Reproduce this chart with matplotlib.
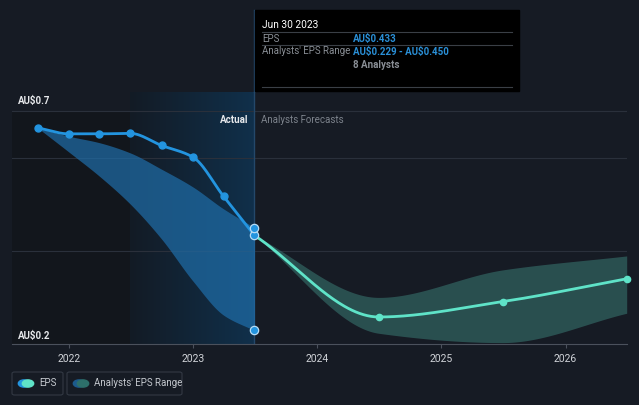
import numpy as np
import pandas as pd
import matplotlib
matplotlib.use("Agg")
from matplotlib import pyplot as plt
from matplotlib.patches import FancyBboxPatch, Circle

plt.rcParams["font.family"] = ["Roboto", "DejaVu Sans"]

# ---- data ----
past_dates = ["2021-09-30", "2021-12-31", "2022-03-31", "2022-06-30",
              "2022-09-30", "2022-12-31", "2023-03-31", "2023-06-30"]
past_eps = [0.664, 0.651, 0.651, 0.652, 0.626, 0.601, 0.517, 0.433]
past_low = [0.664, 0.612, 0.560, 0.500, 0.425, 0.335, 0.262, 0.229]
past_high = [0.664, 0.646, 0.632, 0.610, 0.575, 0.537, 0.490, 0.450]

fc_dates = ["2023-06-30", "2024-06-30", "2025-06-30", "2026-06-30"]
fc_eps = [0.433, 0.258, 0.291, 0.340]
fc_low = [0.433, 0.223, 0.203, 0.266]
fc_high = [0.433, 0.300, 0.359, 0.389]

year_ticks = [2022, 2023, 2024, 2025, 2026]
grid_vals = [0.7, 0.6, 0.4]

BG = "#161b24"
BLUE = "#2394df"
TEAL = "#5fe3c8"


def to_year(dates):
    d = pd.to_datetime(pd.Series(dates))
    start = pd.to_datetime(d.dt.year.astype(str) + "-01-01")
    end = pd.to_datetime((d.dt.year + 1).astype(str) + "-01-01")
    return (d.dt.year + (d - start) / (end - start)).to_numpy()


def monotone(x, y, n=200):
    # monotone cubic (Fritsch-Carlson) for drawing smooth curves
    x = np.asarray(x, float)
    y = np.asarray(y, float)
    h = np.diff(x)
    d = np.diff(y) / h
    m = np.zeros_like(y)
    m[0], m[-1] = d[0], d[-1]
    for i in range(1, len(y) - 1):
        if d[i - 1] * d[i] <= 0:
            m[i] = 0
        else:
            w1 = 2 * h[i] + h[i - 1]
            w2 = h[i] + 2 * h[i - 1]
            m[i] = (w1 + w2) / (w1 / d[i - 1] + w2 / d[i])
    xs, ys = [], []
    for i in range(len(h)):
        t = np.linspace(0, 1, n // len(h))
        h00 = 2 * t**3 - 3 * t**2 + 1
        h10 = t**3 - 2 * t**2 + t
        h01 = -2 * t**3 + 3 * t**2
        h11 = t**3 - t**2
        xs.append(x[i] + t * h[i])
        ys.append(h00 * y[i] + h10 * h[i] * m[i] + h01 * y[i + 1] + h11 * h[i] * m[i + 1])
    return np.concatenate(xs), np.concatenate(ys)


def money(v):
    return "AU\\$%.3f" % v


px = to_year(past_dates)
fx = to_year(fc_dates)

fig = plt.figure(figsize=(6.39, 4.05), dpi=100, facecolor=BG)
ax = fig.add_axes([12 / 639, 61 / 405, 614.7 / 639, 252 / 405])
ax.set_facecolor(BG)
x0, x1 = 2021.539, fx[-1]
ytop = 0.7408
ax.set_xlim(x0, x1)
ax.set_ylim(0.2, ytop)

# shaded "actual" background
ax.axvspan(x0, px[3], ymin=0, ymax=(0.7 - 0.2) / (ytop - 0.2), color="#12161c",
           zorder=0, lw=0)
grad = np.linspace(0, 1, 256).reshape(1, -1)
cmap = matplotlib.colors.LinearSegmentedColormap.from_list("g", ["#131b25", "#10304b"])
ax.imshow(grad, extent=[px[3], px[-1], 0.2, ytop], aspect="auto", cmap=cmap, zorder=0.5)

for g in grid_vals:
    ax.axhline(g, color="#2a303b", lw=0.8, zorder=1)

# ranges
sx, sl = monotone(px, past_low)
_, sh = monotone(px, past_high)
ax.fill_between(sx, sl, sh, color="#1f6eaa", alpha=0.7, lw=0, zorder=2)
fxs, fl = monotone(fx, fc_low)
_, fh = monotone(fx, fc_high)
ax.fill_between(fxs, fl, fh, color="#3a7a74", alpha=0.55, lw=0, zorder=2)

# lines
ex, ey = monotone(px, past_eps)
ax.plot(ex, ey, color=BLUE, lw=2, zorder=3)
ax.plot(px[:-1], past_eps[:-1], "o", color=BLUE, ms=5, zorder=4)
fxe, fye = monotone(fx, fc_eps)
ax.plot(fxe, fye, color=TEAL, lw=2, zorder=3)
ax.plot(fx[1:], fc_eps[1:], "o", color=TEAL, ms=4.5, zorder=4, clip_on=False)
for v in [past_eps[-1], past_low[-1], past_high[-1]]:
    ax.plot(px[-1], v, "o", color=BLUE, mec="#b8dcf5", mew=0.9, ms=6, zorder=5)

# divider line
ax.axvline(px[-1], color="#24486a", lw=1, zorder=1.5)
fig.add_artist(plt.Line2D([254.3 / 639, 254.3 / 639], [1 - 92 / 405, 1 - 10 / 405],
                          color="#24486a", lw=1))

for s in ["top", "right", "left"]:
    ax.spines[s].set_visible(False)
ax.spines["bottom"].set_color("#4b515c")
ax.set_yticks([])
ax.set_xticks(year_ticks)
ax.set_xticklabels([str(y) for y in year_ticks])
ax.tick_params(axis="x", colors="#4b515c", labelcolor="#d0d3d8", labelsize=7.5,
               length=3, pad=4)

ax.text(px[-1] - 0.05, 0.681, "Actual", color="#e6e8eb", fontsize=7,
        fontweight="bold", ha="right", va="center", zorder=6)
ax.text(px[-1] + 0.05, 0.681, "Analysts Forecasts", color="#7d838c",
        fontsize=7, ha="left", va="center", zorder=6)

fig.text(18 / 639, 1 - 101 / 405, "AU\\$0.7", color="#e6e8eb", fontsize=7,
         fontweight="bold", va="center")
fig.text(18 / 639, 1 - 336 / 405, "AU\\$0.2", color="#e6e8eb", fontsize=7,
         fontweight="bold", va="center")

# tooltip
fig.patches.append(plt.Rectangle((255 / 639, 1 - 91 / 405), 264 / 639, 81 / 405,
                                 transform=fig.transFigure, color="#000000", zorder=10))
for yy in [32, 45, 87]:
    fig.add_artist(plt.Line2D([262 / 639, 512 / 639], [1 - yy / 405] * 2,
                              color="#3a3f46", lw=0.8, zorder=11))
fig.text(262 / 639, 1 - 24.5 / 405, "Jun 30 2023", color="#ffffff", fontsize=7.3,
         va="center", zorder=12)
fig.text(262 / 639, 1 - 38.5 / 405, "EPS", color="#8a8f96", fontsize=7, va="center", zorder=12)
fig.text(353 / 639, 1 - 38.5 / 405, money(past_eps[-1]), color="#2a8fd6", fontsize=7,
         fontweight="bold", va="center", zorder=12)
fig.text(262 / 639, 1 - 51.5 / 405, "Analysts' EPS Range", color="#8a8f96", fontsize=7,
         va="center", zorder=12)
fig.text(353 / 639, 1 - 51.5 / 405,
         money(past_low[-1]) + " - " + money(past_high[-1]),
         color="#2a8fd6", fontsize=7, fontweight="bold", va="center", zorder=12)
fig.text(353 / 639, 1 - 64.5 / 405, "8 Analysts", color="#8a8f96", fontsize=7,
         fontweight="bold", va="center", zorder=12)

# legend boxes
for (bx, bw, label, c1, c2) in [(12, 51, "EPS", BLUE, TEAL),
                                 (67, 115, "Analysts' EPS Range", "#1c5a8c", "#2d6f6a")]:
    fig.patches.append(FancyBboxPatch((bx / 639, 1 - 395 / 405), bw / 639, 23 / 405,
                                      boxstyle="round,pad=0,rounding_size=0.004",
                                      transform=fig.transFigure, fc=BG, ec="#333944", lw=0.8))
    cy = 1 - 383.5 / 405
    fig.patches.append(Circle(((bx + 12) / 639, cy), 3.6 / 405, transform=fig.transFigure,
                              color=c1, zorder=3))
    fig.patches.append(Circle(((bx + 16) / 639, cy), 3.6 / 405, transform=fig.transFigure,
                              color=c2, zorder=4))
    fig.text((bx + 27) / 639, cy, label, color="#c5c9cf", fontsize=7, va="center")

fig.savefig("out.png", dpi=100, facecolor=BG)
